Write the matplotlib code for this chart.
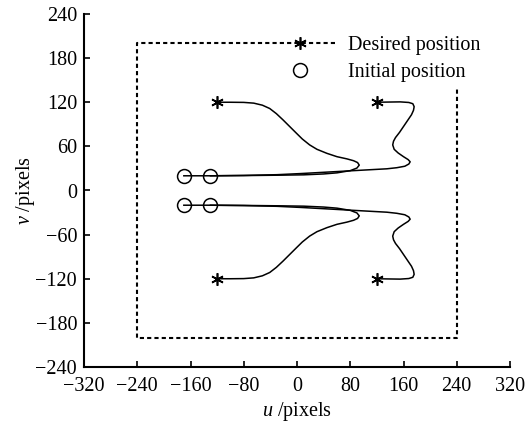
import matplotlib
matplotlib.use("Agg")
import matplotlib.pyplot as plt
from matplotlib.lines import Line2D

plt.rcParams['font.family'] = ['Liberation Serif', 'DejaVu Serif']
plt.rcParams['mathtext.fontset'] = 'custom'
plt.rcParams['mathtext.it'] = 'Liberation Serif:italic'
plt.rcParams['mathtext.rm'] = 'Liberation Serif'

# field of view (dashed box), open at the top-right where the legend sits
box_u = [57, -240, -240, 240, 240]
box_v = [200, 200, -200, -200, 140]

# feature points
init_u = [-170, -130, -170, -130]
init_v = [20, 20, -20, -20]
des_u = [-120, 120, -120, 120]
des_v = [120, 120, -120, -120]

# image trajectories
tr1_u = [-130, -80, -30, 10, 40, 60, 80, 90, 93.5, 91, 85, 75, 60, 45, 30, 19, 8,
         -1, -11, -21, -31, -41, -52, -65, -80, -100, -120]
tr1_v = [20, 20.3, 20.8, 21.3, 22.5, 24, 27, 30.5, 34.5, 38, 40.5, 43, 46, 50.5, 56,
         62, 70, 78, 87, 96, 104.5, 111.5, 116, 118.8, 119.8, 120, 120]

tr2_u = [-170, -130, -80, -30, 5, 55, 105, 135, 150, 162, 168, 170, 167, 160, 152,
         146, 143.8, 145, 148, 154, 160, 166, 172, 175, 176, 174, 168, 155, 140, 120]
tr2_v = [20, 20, 20.5, 21.5, 23, 25.5, 28, 29.5, 31, 33, 36, 39, 42, 46, 51,
         56, 62, 67, 72, 79, 87, 95, 103, 109, 114, 118, 119.7, 120.5, 120.3, 120]

tr3_u = [-130, -80, -30, 10, 40, 60, 80, 90, 93.5, 91, 85, 75, 60, 45, 30, 19, 8,
         -1, -11, -21, -31, -41, -52, -65, -80, -100, -120]
tr3_v = [-20, -20.3, -20.8, -21.3, -22.5, -24, -27, -30.5, -34.5, -38, -40.5, -43,
         -46, -50.5, -56, -62, -70, -78, -87, -96, -104.5, -111.5, -116, -118.8,
         -119.8, -120, -120]

tr4_u = [-170, -130, -80, -30, 5, 55, 105, 135, 150, 162, 168, 170, 167, 160, 152,
         146, 143.8, 145, 148, 154, 160, 166, 172, 175, 176, 174, 168, 155, 140, 120]
tr4_v = [-20, -20, -20.5, -21.5, -23, -25.5, -28, -29.5, -31, -33, -36, -39, -42,
         -46, -51, -56, -62, -67, -72, -79, -87, -95, -103, -109, -114, -118,
         -119.7, -120.5, -120.3, -120]

xticks = [-320, -240, -160, -80, 0, 80, 160, 240, 320]
yticks = [-240, -180, -120, -60, 0, 60, 120, 180, 240]

fs = 14.5

fig = plt.figure(figsize=(5.32, 4.23), dpi=100)
ax = fig.add_axes([84 / 532, 1 - 367 / 423, 426 / 532, 353 / 423])

dash = (0, (2, 1.5))
ax.plot(box_u, box_v, color='k', lw=1.5, ls=dash)

for u, v in [(tr1_u, tr1_v), (tr2_u, tr2_v), (tr3_u, tr3_v), (tr4_u, tr4_v)]:
    ax.plot(u, v, color='k', lw=1.1)

ax.plot(init_u, init_v, ls='none', marker='o', ms=10, mfc='none', mec='k', mew=1.1)
ax.plot(des_u, des_v, ls='none', marker=(6, 2, 0), ms=9, color='k', mew=1.2)

ax.set_xlim(-320, 320)
ax.set_ylim(-240, 240)
ax.set_xticks(xticks)
ax.set_yticks(yticks)
ax.tick_params(direction='in', length=4, width=1.2, labelsize=fs, pad=5)
ax.tick_params(axis='x', pad=7)
for s in ['top', 'right']:
    ax.spines[s].set_visible(False)
for s in ['left', 'bottom']:
    ax.spines[s].set_linewidth(1.5)

ax.set_xlabel('$u$ /pixels', fontsize=fs, labelpad=3)
ax.set_ylabel('$v$ /pixels', fontsize=fs, labelpad=-1)

handles = [
    Line2D([], [], color='k', ls='none', marker=(6, 2, 0), ms=9, mew=1.2),
    Line2D([], [], color='k', ls='none', marker='o', ms=10, mfc='none', mew=1.1),
]
leg = ax.legend(handles, ['Desired position', 'Initial position'],
                loc='upper left', bbox_to_anchor=(265 / 532, 1 - 36 / 423),
                bbox_transform=fig.transFigure, frameon=False,
                borderpad=0, borderaxespad=0, handlelength=3.5,
                handletextpad=0.6, labelspacing=0.37, fontsize=fs)

fig.savefig('out.png', dpi=100)
